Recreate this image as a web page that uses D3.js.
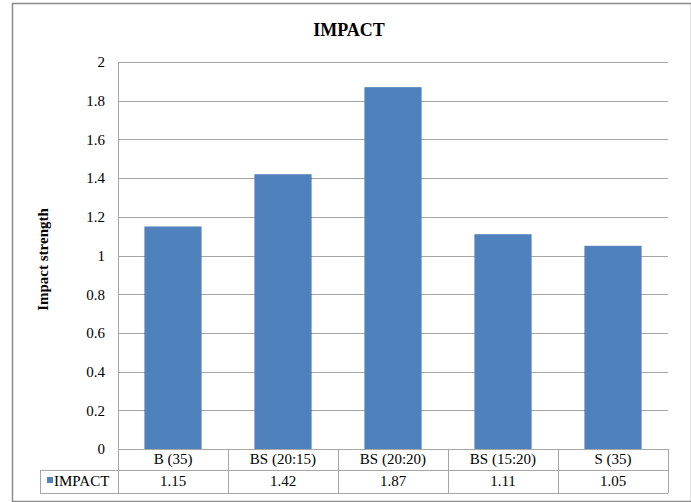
<!DOCTYPE html>
<html>
<head>
<meta charset="utf-8">
<script src="https://cdn.jsdelivr.net/npm/d3@7"></script>
<style>
  body { margin: 0; background: #fff; }
</style>
</head>
<body>
<div id="chart-area"></div>
<script>
const categories = ["B (35)", "BS (20:15)", "BS (20:20)", "BS (15:20)", "S (35)"];
const impactValues = [1.15, 1.42, 1.87, 1.11, 1.05];
const yTicks = [0, 0.2, 0.4, 0.6, 0.8, 1, 1.2, 1.4, 1.6, 1.8, 2];
const seriesName = "IMPACT";

const W = 691, H = 502;
const MARGIN = { LEFT: 118, RIGHT: 23, TOP: 62, BOTTOM: 53 };
const WIDTH = W - MARGIN.LEFT - MARGIN.RIGHT;
const HEIGHT = H - MARGIN.TOP - MARGIN.BOTTOM;
const ROW = 21;
const ROW2 = 23;
const FONT = "'Liberation Serif'";

const svg = d3.select("#chart-area").append("svg")
    .attr("width", W)
    .attr("height", H);

// chart frame
svg.append("rect")
    .attr("x", 12.5).attr("y", 3.5)
    .attr("width", W - 12).attr("height", H - 4)
    .attr("fill", "#fff")
    .attr("stroke", "#8c8c8c")
    .attr("stroke-width", 1.5);

svg.append("text")
    .attr("x", 349).attr("y", 36)
    .attr("text-anchor", "middle")
    .attr("font-size", "18px")
    .attr("font-weight", "700")
    .style("font-family", FONT)
    .text("IMPACT");

const g = svg.append("g")
    .attr("transform", `translate(${MARGIN.LEFT}, ${MARGIN.TOP})`);

const x = d3.scaleBand()
    .domain(categories)
    .range([0, WIDTH])
    .paddingInner(0.48)
    .paddingOuter(0.24);

const xCell = d3.scaleBand()
    .domain(categories)
    .range([0, WIDTH]);

const y = d3.scaleLinear()
    .domain([0, 2])
    .range([HEIGHT, 0]);

// gridlines
g.append("g")
    .selectAll("line")
    .data(yTicks)
    .join("line")
    .attr("x1", 0).attr("x2", WIDTH)
    .attr("y1", d => Math.round(y(d)) + 0.5)
    .attr("y2", d => Math.round(y(d)) + 0.5)
    .attr("stroke", "#a6a6a6")
    .attr("stroke-width", 1);

// y axis
const yAxisCall = d3.axisLeft(y)
    .tickValues(yTicks)
    .tickSize(0)
    .tickPadding(13)
    .tickFormat(d => String(d));
const yAxis = g.append("g").call(yAxisCall);
yAxis.select(".domain").remove();
yAxis.selectAll("text")
    .attr("font-size", "15px")
    .attr("fill", "#000")
    .style("font-family", FONT);

g.append("line")
    .attr("x1", 0.5).attr("x2", 0.5)
    .attr("y1", 0).attr("y2", HEIGHT)
    .attr("stroke", "#a6a6a6");

// y label
g.append("text")
    .attr("transform", "rotate(-90)")
    .attr("x", -(y(1) + 4))
    .attr("y", -70)
    .attr("text-anchor", "middle")
    .attr("font-size", "15px")
    .attr("font-weight", "700")
    .style("font-family", FONT)
    .text("Impact strength");

// bars
g.selectAll("rect.bar")
    .data(impactValues)
    .join("rect")
    .attr("class", "bar")
    .attr("x", (d, i) => x(categories[i]))
    .attr("y", d => y(d))
    .attr("width", x.bandwidth())
    .attr("height", d => HEIGHT - y(d))
    .attr("fill", "#4f81bd");

// data table
const table = g.append("g").attr("transform", `translate(0, ${HEIGHT})`);
const lineColor = "#a6a6a6";
const tableLeft = -78;
const tableBottom = ROW + ROW2;

table.append("line")
    .attr("x1", 0).attr("x2", WIDTH).attr("y1", 0.5).attr("y2", 0.5)
    .attr("stroke", lineColor);
table.append("line")
    .attr("x1", tableLeft).attr("x2", WIDTH).attr("y1", ROW + 0.5).attr("y2", ROW + 0.5)
    .attr("stroke", lineColor);
table.append("line")
    .attr("x1", tableLeft).attr("x2", WIDTH).attr("y1", tableBottom + 0.5).attr("y2", tableBottom + 0.5)
    .attr("stroke", lineColor);
table.append("line")
    .attr("x1", tableLeft + 0.5).attr("x2", tableLeft + 0.5).attr("y1", ROW).attr("y2", tableBottom)
    .attr("stroke", lineColor);

table.selectAll("line.sep")
    .data(categories)
    .join("line")
    .attr("class", "sep")
    .attr("x1", d => xCell(d) + 0.5).attr("x2", d => xCell(d) + 0.5)
    .attr("y1", 0).attr("y2", tableBottom)
    .attr("stroke", lineColor);
table.append("line")
    .attr("x1", WIDTH + 0.5).attr("x2", WIDTH + 0.5)
    .attr("y1", 0).attr("y2", tableBottom)
    .attr("stroke", lineColor);

table.selectAll("text.cat")
    .data(categories)
    .join("text")
    .attr("class", "cat")
    .attr("x", d => xCell(d) + xCell.bandwidth() / 2)
    .attr("y", 15)
    .attr("text-anchor", "middle")
    .attr("font-size", "15px")
    .style("font-family", FONT)
    .text(d => d);

table.selectAll("text.val")
    .data(impactValues)
    .join("text")
    .attr("class", "val")
    .attr("x", (d, i) => xCell(categories[i]) + xCell.bandwidth() / 2)
    .attr("y", ROW + 16)
    .attr("text-anchor", "middle")
    .attr("font-size", "15px")
    .style("font-family", FONT)
    .text(d => d3.format(".2f")(d));

table.append("rect")
    .attr("x", tableLeft + 7).attr("y", ROW + 7)
    .attr("width", 6).attr("height", 6)
    .attr("fill", "#4f81bd");
table.append("text")
    .attr("x", tableLeft + 14).attr("y", ROW + 16)
    .attr("font-size", "15px")
    .style("font-family", FONT)
    .text(seriesName);
</script>
</body>
</html>
